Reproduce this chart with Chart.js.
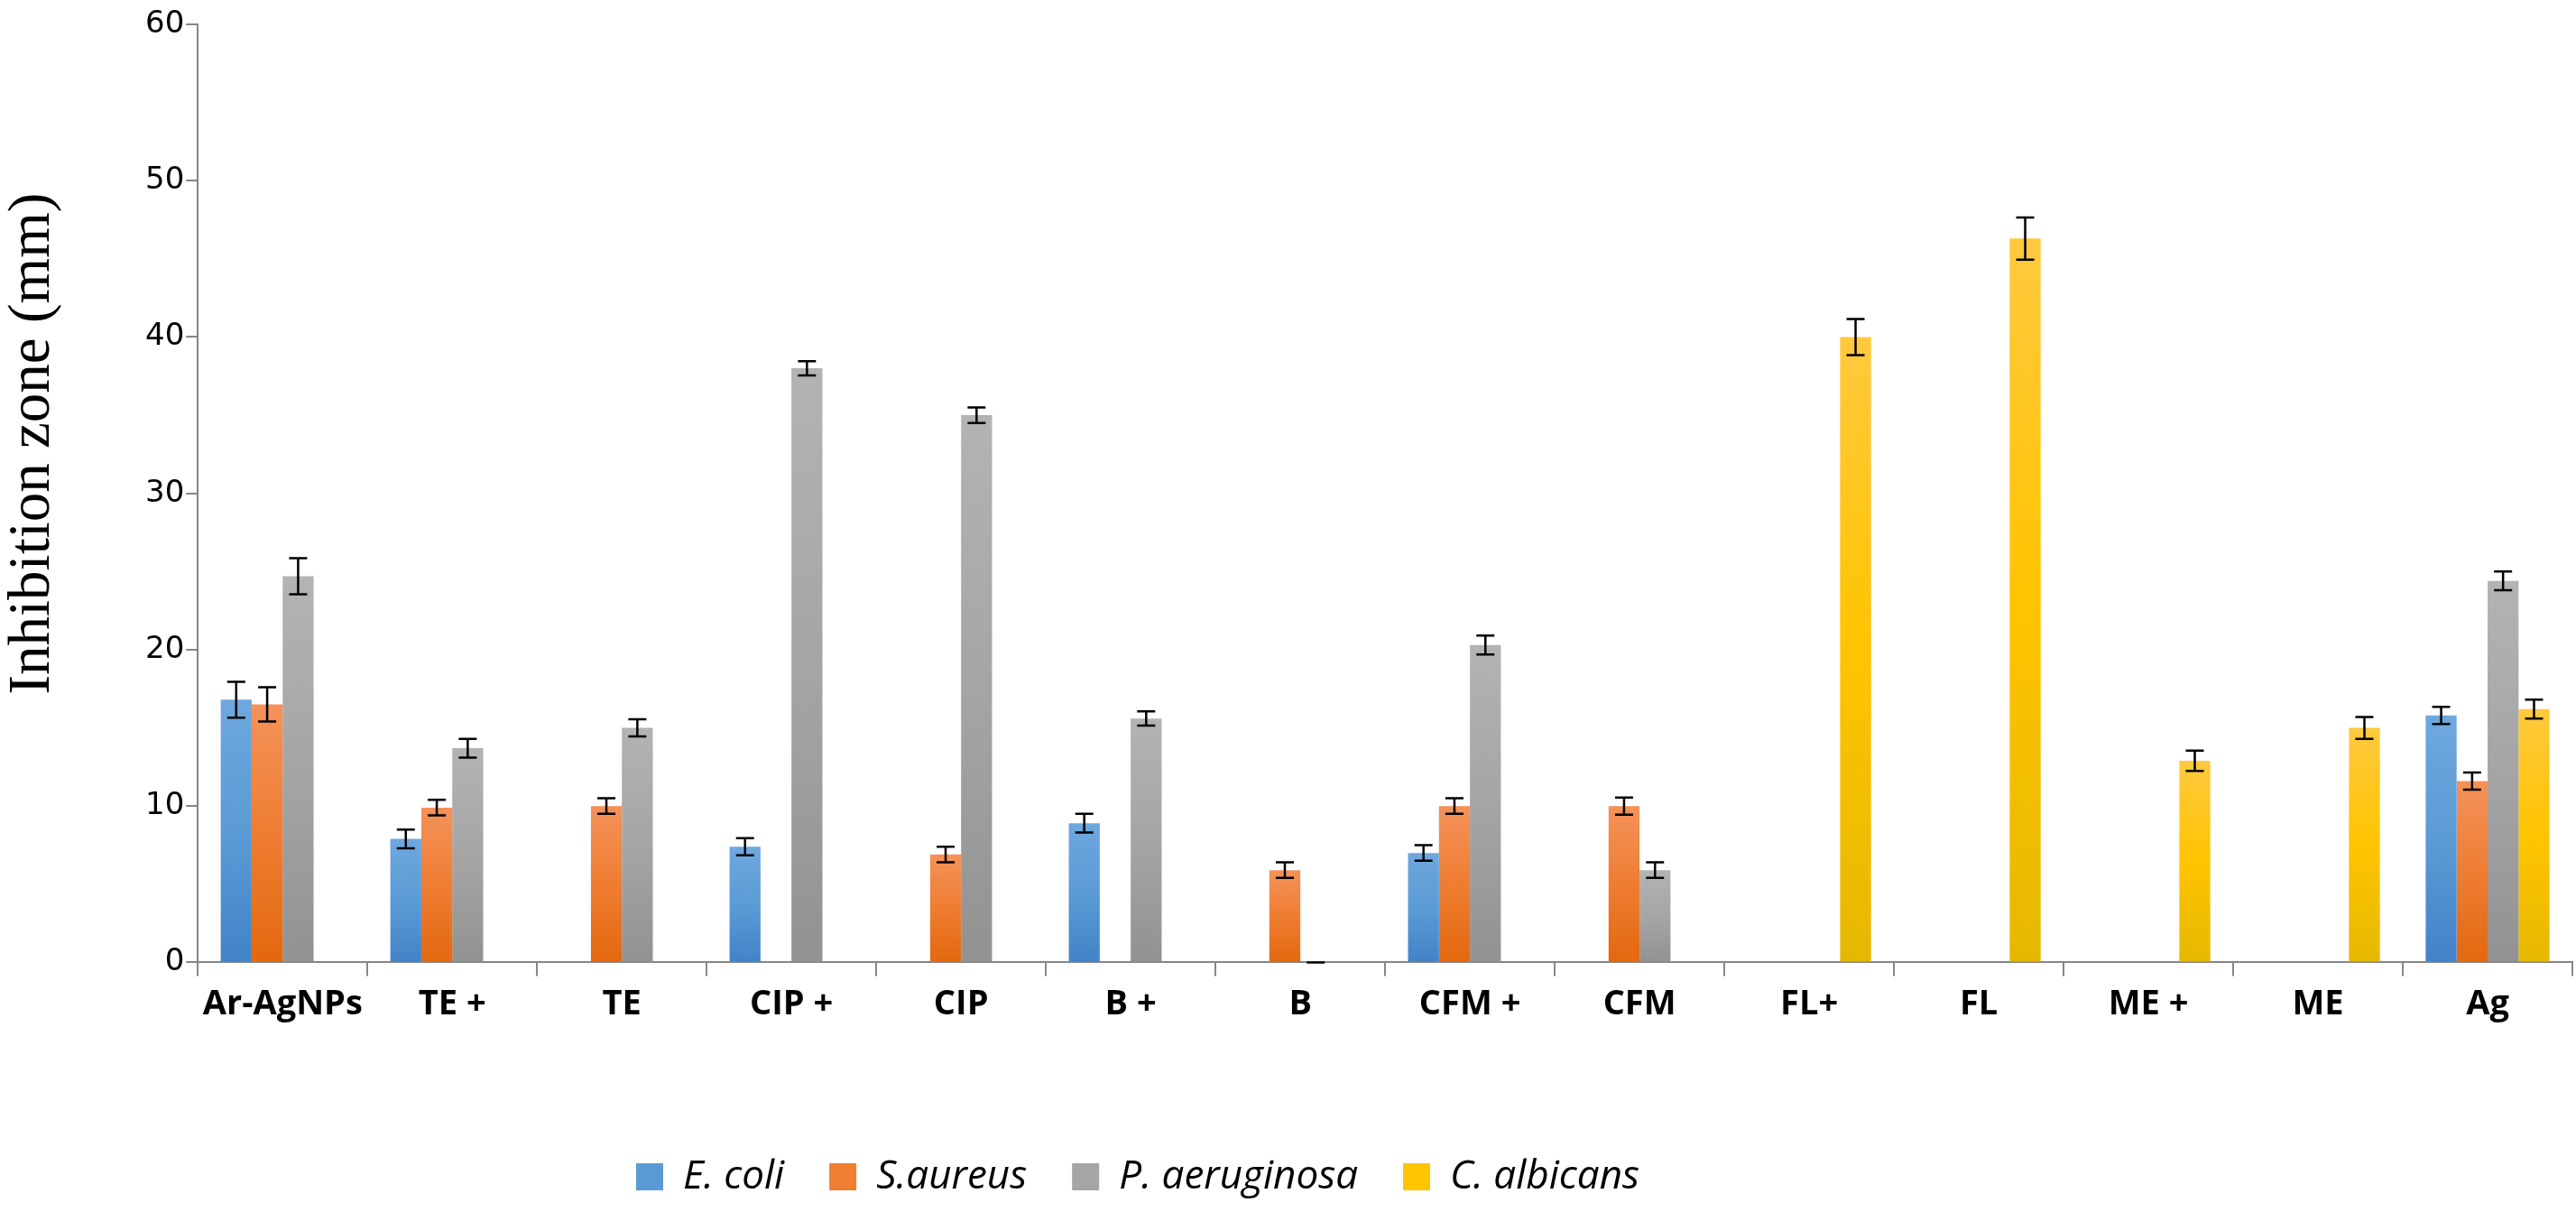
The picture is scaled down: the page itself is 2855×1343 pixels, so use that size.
<!DOCTYPE html>
<html>
<head>
<meta charset="utf-8">
<script src="https://cdn.jsdelivr.net/npm/chart.js@4/dist/chart.umd.min.js"></script>
<style>
  html, body { margin: 0; padding: 0; background: #fff; }
  canvas { display: block; }
</style>
</head>
<body>
<canvas id="grafico" width="2855" height="1343"></canvas>
<script>
// Datos
const categorias = ['Ar-AgNPs', 'TE +', 'TE', 'CIP +', 'CIP', 'B +', 'B', 'CFM +', 'CFM', 'FL+', 'FL', 'ME +', 'ME', 'Ag'];
const series = ['E. coli', 'S.aureus', 'P. aeruginosa', 'C. albicans'];

const eColi       = [16.8, 7.9, null, 7.4, null, 8.9, null, 7.0, null, null, null, null, null, 15.8];
const sAureus     = [16.5, 9.9, 10.0, null, 6.9, null, 5.9, 10.0, 10.0, null, null, null, null, 11.6];
const pAeruginosa = [24.7, 13.7, 15.0, 38.0, 35.0, 15.6, 0, 20.3, 5.9, null, null, null, null, 24.4];
const cAlbicans   = [null, null, null, null, null, null, null, null, null, 40.0, 46.3, 12.9, 15.0, 16.2];

const eColiErr       = [1.15, 0.6, null, 0.55, null, 0.6, null, 0.5, null, null, null, null, null, 0.55];
const sAureusErr     = [1.1, 0.5, 0.5, null, 0.5, null, 0.5, 0.5, 0.55, null, null, null, null, 0.55];
const pAeruginosaErr = [1.15, 0.6, 0.55, 0.45, 0.5, 0.45, 0, 0.6, 0.5, null, null, null, null, 0.6];
const cAlbicansErr   = [null, null, null, null, null, null, null, null, null, 1.15, 1.35, 0.65, 0.7, 0.6];

const yTicks = [0, 10, 20, 30, 40, 50, 60];
const tituloY = 'Inhibition zone (mm)';

// Colores (claro arriba, medio, oscuro abajo)
const paleta = [
    ['#6ea8de', '#5b9bd5', '#4283c8'],
    ['#f4925a', '#ef7d32', '#e3680f'],
    ['#b3b3b3', '#a5a5a5', '#929292'],
    ['#ffc93e', '#ffc400', '#e5b800']
];

// Relleno degradado por barra
function rellenoBarra(stops) {
    return function(context) {
        const chart = context.chart;
        const escala = chart.scales.y;
        const v = context.raw;
        if (context.type !== 'data' || v == null || !chart.chartArea || !escala) return stops[1];
        const arriba = escala.getPixelForValue(v);
        const base = escala.getPixelForValue(0);
        if (!isFinite(arriba) || !isFinite(base) || arriba >= base) return stops[1];
        const g = chart.ctx.createLinearGradient(0, arriba, 0, base);
        g.addColorStop(0, stops[0]);
        g.addColorStop(0.5, stops[1]);
        g.addColorStop(1, stops[2]);
        return g;
    };
}

const valores = [eColi, sAureus, pAeruginosa, cAlbicans];
const errores = [eColiErr, sAureusErr, pAeruginosaErr, cAlbicansErr];

// Barras de error
const barrasError = {
    id: 'barrasError',
    afterDatasetsDraw(chart) {
        const ctx = chart.ctx;
        const y = chart.scales.y;
        ctx.save();
        ctx.strokeStyle = '#000';
        ctx.lineWidth = 2.5;
        chart.data.datasets.forEach((ds, i) => {
            const meta = chart.getDatasetMeta(i);
            ds.data.forEach((v, j) => {
                const e = errores[i][j];
                if (v == null || e == null) return;
                const x = meta.data[j].x;
                const y1 = y.getPixelForValue(v + e);
                const y2 = y.getPixelForValue(Math.max(v - e, 0));
                ctx.beginPath();
                ctx.moveTo(x, y1); ctx.lineTo(x, y2);
                ctx.moveTo(x - 10, y1); ctx.lineTo(x + 10, y1);
                ctx.moveTo(x - 10, y2); ctx.lineTo(x + 10, y2);
                ctx.stroke();
            });
        });
        ctx.restore();
    }
};

// Título del eje Y (algo por encima del centro, como en el original)
const tituloEje = {
    id: 'tituloEje',
    afterDraw(chart) {
        const { ctx, chartArea } = chart;
        ctx.save();
        ctx.translate(37, chartArea.top + (chartArea.bottom - chartArea.top) * 0.447);
        ctx.rotate(-Math.PI / 2);
        ctx.font = '65px "Liberation Serif"';
        ctx.fillStyle = '#000';
        ctx.textAlign = 'center';
        ctx.textBaseline = 'middle';
        ctx.fillText(tituloY, 0, 0);
        ctx.restore();
    }
};

// Mover la leyenda hacia la izquierda como en el original
const leyendaIzquierda = {
    id: 'leyendaIzquierda',
    afterLayout(chart) {
        if (chart.legend) chart.legend.left = 655;
    }
};

new Chart(document.getElementById('grafico'), {
    type: 'bar',
    data: {
        labels: categorias,
        datasets: series.map((nombre, i) => ({
            label: nombre,
            data: valores[i],
            backgroundColor: rellenoBarra(paleta[i]),
            borderWidth: 0,
            categoryPercentage: 0.73,
            barPercentage: 1.0
        }))
    },
    options: {
        responsive: false,
        animation: false,
        layout: { padding: { top: 27, right: 4, left: 159, bottom: 7 } },
        plugins: {
            tooltip: { enabled: false },
            legend: {
                position: 'bottom',
                align: 'start',
                labels: {
                    boxWidth: 30,
                    boxHeight: 30,
                    padding: 50,
                    color: '#000',
                    font: { family: '"Open Sans"', style: 'italic', size: 44 },
                    generateLabels: chart => Chart.defaults.plugins.legend.labels.generateLabels(chart).map((l, i) => ({
                        ...l, fillStyle: paleta[i][1], strokeStyle: paleta[i][1], lineWidth: 0
                    }))
                }
            }
        },
        scales: {
            x: {
                afterFit: scale => { scale.height += 87; },
                grid: { display: true, drawOnChartArea: false, drawTicks: true, tickLength: 15, color: '#868686', lineWidth: 2 },
                border: { display: true, color: '#868686', width: 2 },
                ticks: {
                    color: '#000',
                    padding: 9,
                    maxRotation: 0,
                    autoSkip: false,
                    font: { family: '"Open Sans"', weight: 'bold', size: 38 }
                }
            },
            y: {
                min: 0,
                max: 60,
                afterBuildTicks: scale => { scale.ticks = yTicks.map(v => ({ value: v })); },
                grid: { display: true, drawOnChartArea: false, drawTicks: true, tickLength: 13, color: '#868686', lineWidth: 2 },
                border: { display: true, color: '#868686', width: 2 },
                ticks: {
                    color: '#000',
                    padding: 2,
                    font: { family: '"DejaVu Sans"', size: 34 }
                }
            }
        }
    },
    plugins: [barrasError, tituloEje, leyendaIzquierda]
});
</script>
</body>
</html>
